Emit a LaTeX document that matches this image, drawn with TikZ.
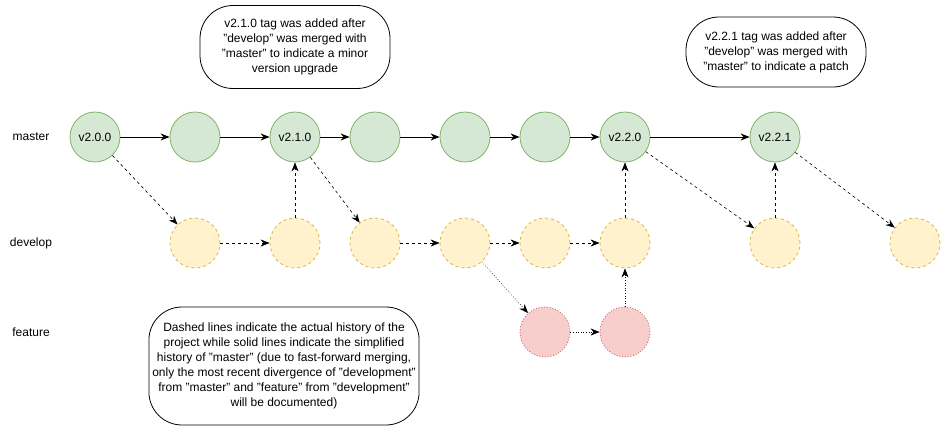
\documentclass[tikz,border=0pt]{standalone}
\usepackage{fontspec}
\setmainfont{Liberation Sans}
\usetikzlibrary{arrows.meta}
\definecolor{greenfill}{HTML}{D5E8D4}
\definecolor{greenline}{HTML}{82B366}
\definecolor{yellowfill}{HTML}{FFF2CC}
\definecolor{yellowline}{HTML}{D6B656}
\definecolor{redfill}{HTML}{F8CECC}
\definecolor{redline}{HTML}{B85450}

\begin{document}
\begin{tikzpicture}[x=1pt, y=-1pt, font=\fontsize{12}{15}\selectfont,
  mastercommit/.style={circle, draw=greenline, fill=greenfill, line width=0.8pt, minimum size=50pt, inner sep=0pt},
  devcommit/.style={circle, draw=yellowline, fill=yellowfill, dashed, line width=0.8pt, minimum size=50pt, inner sep=0pt},
  featcommit/.style={circle, draw=redline, fill=redfill, dotted, line width=0.8pt, minimum size=50pt, inner sep=0pt},
  note/.style={rectangle, draw, rounded corners=33pt, align=center, line width=0.8pt},
  solidedge/.style={-{Stealth[length=9pt, width=7pt]}, line width=0.8pt},
  dashedge/.style={-{Stealth[length=9pt, width=7pt]}, dashed, line width=0.6pt},
  dotedge/.style={-{Stealth[length=9pt, width=7pt]}, dotted, line width=0.6pt}]
  \useasboundingbox (0,0) rectangle (952,437);

  % branch labels
  \node (lmaster) at (31,137) {master};
  \node (ldevelop) at (31,243) {develop};
  \node (lfeature) at (31,332) {feature};

  % master
  \node[mastercommit] (v200) at (95,137) {v2.0.0};
  \node[mastercommit] (m1) at (195,137) {};
  \node[mastercommit] (v210) at (295,137) {v2.1.0};
  \node[mastercommit] (m3) at (375,137) {};
  \node[mastercommit] (m4) at (465,137) {};
  \node[mastercommit] (m5) at (545,137) {};
  \node[mastercommit] (v220) at (625,137) {v2.2.0};
  \node[mastercommit] (v221) at (775,137) {v2.2.1};

  % develop
  \node[devcommit] (d1) at (195,243) {};
  \node[devcommit] (d2) at (295,243) {};
  \node[devcommit] (d3) at (375,243) {};
  \node[devcommit] (d4) at (465,243) {};
  \node[devcommit] (d5) at (545,243) {};
  \node[devcommit] (d6) at (625,243) {};
  \node[devcommit] (d7) at (775,243) {};
  \node[devcommit] (d8) at (915,243) {};

  % feature
  \node[featcommit] (f1) at (545,332) {};
  \node[featcommit] (f2) at (625,332) {};

  % notes
  \node[note, minimum width=190pt, minimum height=83pt] (note1) at (295,47)
    {v2.1.0 tag was added after\\"develop" was merged with\\"master" to indicate a minor\\version upgrade};
  \node[note, minimum width=180pt, minimum height=70pt] (note2) at (776,52)
    {v2.2.1 tag was added after\\"develop" was merged with\\"master" to indicate a patch};
  \node[note, minimum width=252pt, minimum height=118pt] (note3) at (284,366)
    {Dashed lines indicate the actual history of the\\project while solid lines indicate the simplified\\history of "master" (due to fast-forward merging,\\only the most recent divergence of "development"\\from "master" and "feature" from "development"\\will be documented)};

  % simplified history
  \draw[solidedge] (v200) -- (m1);
  \draw[solidedge] (m1) -- (v210);
  \draw[solidedge] (v210) -- (m3);
  \draw[solidedge] (m3) -- (m4);
  \draw[solidedge] (m4) -- (m5);
  \draw[solidedge] (m5) -- (v220);
  \draw[solidedge] (v220) -- (v221);

  % actual history
  \draw[dashedge] (v200) -- (d1);
  \draw[dashedge] (d1) -- (d2);
  \draw[dashedge] (d2) -- (v210);
  \draw[dashedge] (v210) -- (d3);
  \draw[dashedge] (d3) -- (d4);
  \draw[dashedge] (d4) -- (d5);
  \draw[dashedge] (d5) -- (d6);
  \draw[dashedge] (d6) -- (v220);
  \draw[dashedge] (v220) -- (d7);
  \draw[dashedge] (d7) -- (v221);
  \draw[dashedge] (v221) -- (d8);

  \draw[dotedge] (d4) -- (f1);
  \draw[dotedge] (f1) -- (f2);
  \draw[dotedge] (f2) -- (d6);
\end{tikzpicture}
\end{document}
